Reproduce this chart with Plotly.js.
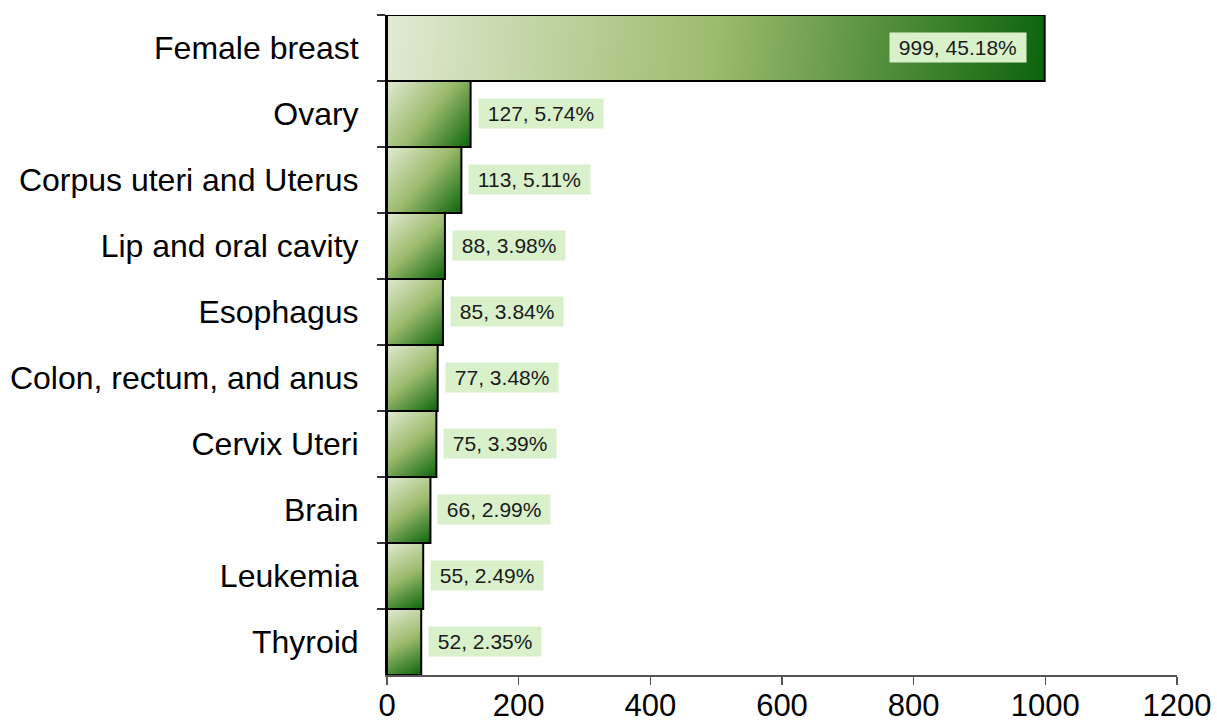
<!DOCTYPE html>
<html>
<head>
<meta charset="utf-8">
<script src="https://cdn.plot.ly/plotly-3.0.1.min.js"></script>
<style>html,body{margin:0;padding:0;background:#fff;}#chart{width:1217px;height:726px;}</style>
</head>
<body>
<div id="chart"></div>
<script>
const categories = ["Female breast","Ovary","Corpus uteri and Uterus","Lip and oral cavity","Esophagus","Colon, rectum, and anus","Cervix Uteri","Brain","Leukemia","Thyroid"];
const counts = [999,127,113,88,85,77,75,66,55,52];
const percents = ["45.18%","5.74%","5.11%","3.98%","3.84%","3.48%","3.39%","2.99%","2.49%","2.35%"];
const xTicks = [0,200,400,600,800,1000,1200];

const FONT = "Liberation Sans, Arial, sans-serif";
const NB = "\u00a0";

const trace = {
  type: "bar",
  orientation: "h",
  y: categories,
  x: counts,
  marker: {color: "#8fb563", line: {color: "#000", width: 2}},
  hoverinfo: "none"
};

const annotations = categories.map((c, i) => {
  const inside = counts[i] > 500;
  return {
    x: counts[i], y: c, xref: "x", yref: "y",
    text: NB + counts[i] + ", " + percents[i] + NB,
    showarrow: false,
    xanchor: inside ? "right" : "left",
    xshift: inside ? -18 : 7,
    yshift: 1,
    bgcolor: "#d9f1cb",
    borderpad: 3,
    font: {family: FONT, size: 21, color: "#1a1a1a"}
  };
});

const layout = {
  width: 1217, height: 726,
  margin: {l: 387, r: 40, t: 15, b: 51},
  paper_bgcolor: "#fff", plot_bgcolor: "#fff",
  bargap: 0,
  showlegend: false,
  font: {family: FONT, color: "#000"},
  xaxis: {
    range: [0, 1200], tickvals: xTicks, ticktext: xTicks.map(String),
    showgrid: false, zeroline: false,
    showline: true, linecolor: "#555", linewidth: 2,
    ticks: "outside", ticklen: 8, tickwidth: 1.5, tickcolor: "#555",
    ticklabelstandoff: -6,
    tickfont: {family: FONT, size: 31, color: "#000"}
  },
  yaxis: {
    type: "category", autorange: "reversed",
    showgrid: false, zeroline: false,
    showline: true, linecolor: "#000", linewidth: 2,
    ticks: "outside", tickson: "boundaries", ticklen: 8, tickwidth: 1.5, tickcolor: "#333",
    ticklabelstandoff: 20,
    tickfont: {family: FONT, size: 32, color: "#000"}
  },
  annotations: annotations
};

Plotly.newPlot("chart", [trace], layout, {staticPlot: true}).then(gd => {
  const svg = gd.querySelector("svg.main-svg");
  const ns = "http://www.w3.org/2000/svg";
  let defs = svg.querySelector("defs");
  if (!defs) { defs = document.createElementNS(ns, "defs"); svg.insertBefore(defs, svg.firstChild); }
  gd.querySelectorAll(".bars .point path").forEach((p, k) => {
    const b = p.getBBox();
    const g = document.createElementNS(ns, "linearGradient");
    g.setAttribute("id", "barGrad" + k);
    g.setAttribute("gradientUnits", "userSpaceOnUse");
    g.setAttribute("x1", b.x); g.setAttribute("y1", b.y);
    g.setAttribute("x2", b.x + b.width); g.setAttribute("y2", b.y + b.height);
    [["0", "#e0ead3"], ["0.5", "#9cbb6c"], ["1", "#0c640c"]].forEach(([o, c]) => {
      const s = document.createElementNS(ns, "stop");
      s.setAttribute("offset", o); s.setAttribute("stop-color", c);
      g.appendChild(s);
    });
    defs.appendChild(g);
    p.style.fill = "url(#barGrad" + k + ")";
  });
});
</script>
</body>
</html>
